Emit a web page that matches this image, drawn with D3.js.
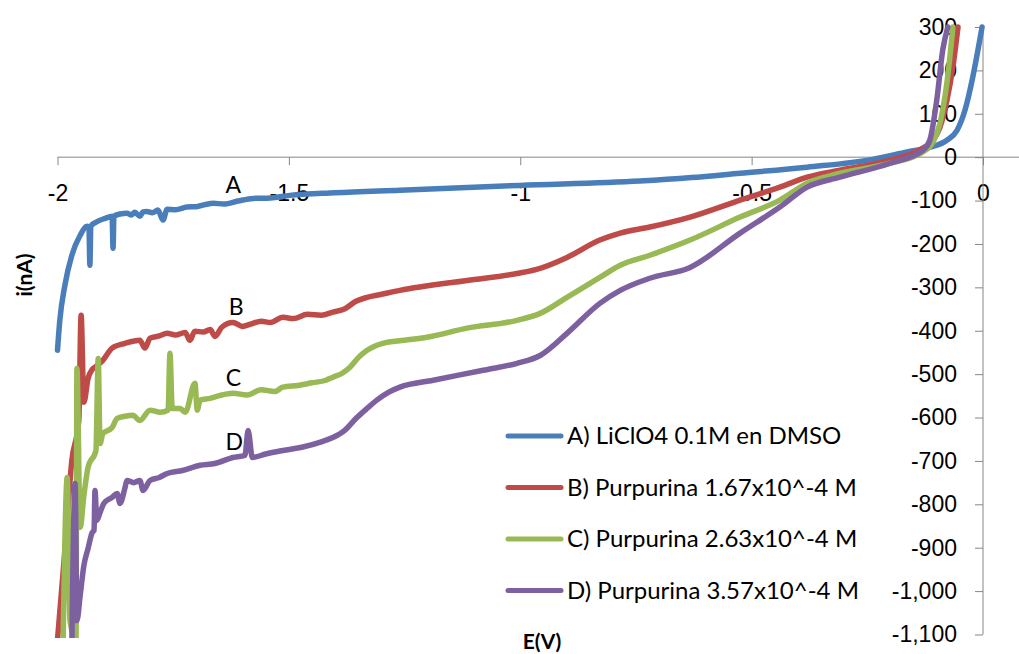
<!DOCTYPE html>
<html lang="es">
<head>
<meta charset="UTF-8">
<title>Voltametría Purpurina</title>
<style>
    body { margin: 0; background: #fff; }
    svg { display: block; font-family: Lato, "Open Sans", sans-serif; }
    .axis text { font-size: 23px; fill: #000; }
    .axis line, .axis path { stroke: #868686; stroke-width: 1; }
    .series { fill: none; stroke-width: 5.5; stroke-linejoin: round; stroke-linecap: round; }
</style>
</head>
<body>
<svg id="chart" width="1019" height="654"></svg>
<script src="https://d3js.org/d3.v7.min.js"></script>
<script>
    // E (V) and i (nA)
    const serieA = [
        [-2.000, -445], [-1.995, -376], [-1.984, -295], [-1.969, -226], [-1.951, -180],
        [-1.936, -159], [-1.932, -164], [-1.930, -249], [-1.928, -159], [-1.917, -150],
        [-1.897, -141], [-1.882, -136], [-1.880, -210], [-1.878, -136], [-1.865, -131],
        [-1.850, -129], [-1.840, -133], [-1.833, -127], [-1.822, -136], [-1.815, -126],
        [-1.807, -125], [-1.795, -128], [-1.783, -122], [-1.772, -145], [-1.763, -120],
        [-1.745, -121], [-1.720, -115], [-1.700, -114], [-1.664, -106], [-1.640, -108],
        [-1.610, -101], [-1.577, -95], [-1.540, -94], [-1.498, -88], [-1.400, -82],
        [-1.260, -76], [-1.001, -65], [-0.742, -55], [-0.630, -47], [-0.525, -37],
        [-0.380, -23], [-0.238, -5], [-0.164, 12], [-0.115, 23], [-0.078, 39],
        [-0.056, 62], [-0.039, 108], [-0.022, 185], [-0.007, 270], [-0.002, 300]
    ];
    const serieB = [
        [-2.001, -1125], [-1.984, -906], [-1.969, -699], [-1.954, -607], [-1.949, -364],
        [-1.943, -565], [-1.934, -510], [-1.925, -489], [-1.919, -484], [-1.902, -468],
        [-1.882, -440], [-1.854, -429], [-1.822, -422], [-1.811, -440], [-1.800, -417],
        [-1.780, -412], [-1.763, -406], [-1.745, -410], [-1.724, -404], [-1.714, -422],
        [-1.703, -401], [-1.685, -403], [-1.670, -397], [-1.660, -413], [-1.645, -392],
        [-1.621, -381], [-1.600, -390], [-1.584, -385], [-1.560, -378], [-1.540, -381],
        [-1.513, -369], [-1.490, -372], [-1.460, -362], [-1.430, -364], [-1.405, -357],
        [-1.380, -350], [-1.355, -332], [-1.331, -323], [-1.300, -316], [-1.260, -307],
        [-1.115, -284], [-1.007, -268], [-0.957, -256], [-0.899, -231], [-0.828, -191],
        [-0.784, -175], [-0.720, -161], [-0.633, -138], [-0.525, -99], [-0.439, -69],
        [-0.380, -46], [-0.309, -30], [-0.201, -7], [-0.130, 21], [-0.108, 39],
        [-0.093, 69], [-0.078, 131], [-0.065, 208], [-0.054, 300]
    ];
    const serieC = [
        [-1.988, -1125], [-1.979, -738], [-1.973, -1068], [-1.960, -1114], [-1.958, -487],
        [-1.951, -853], [-1.943, -780], [-1.934, -715], [-1.917, -676], [-1.912, -464],
        [-1.908, -660], [-1.902, -637], [-1.882, -623], [-1.871, -602], [-1.854, -597],
        [-1.837, -595], [-1.822, -607], [-1.800, -583], [-1.778, -588], [-1.761, -583],
        [-1.757, -452], [-1.752, -579], [-1.735, -579], [-1.724, -588], [-1.703, -521],
        [-1.698, -583], [-1.692, -560], [-1.670, -556], [-1.645, -548], [-1.621, -544],
        [-1.590, -548], [-1.560, -536], [-1.530, -540], [-1.513, -530], [-1.480, -526],
        [-1.450, -520], [-1.420, -514], [-1.405, -507], [-1.385, -498], [-1.368, -484],
        [-1.350, -462], [-1.331, -445], [-1.297, -429], [-1.250, -422], [-1.202, -415],
        [-1.115, -394], [-1.007, -376], [-0.957, -360], [-0.899, -323], [-0.828, -277],
        [-0.784, -249], [-0.720, -226], [-0.633, -191], [-0.525, -138], [-0.439, -99],
        [-0.380, -60], [-0.309, -37], [-0.201, -14], [-0.130, 12], [-0.108, 35],
        [-0.093, 78], [-0.078, 171], [-0.065, 300]
    ];
    const serieD = [
        [-1.969, -1125], [-1.962, -752], [-1.958, -1068], [-1.951, -1010], [-1.943, -941],
        [-1.934, -902], [-1.925, -865], [-1.921, -860], [-1.919, -768], [-1.915, -837],
        [-1.908, -819], [-1.900, -798], [-1.882, -784], [-1.871, -775], [-1.865, -798],
        [-1.854, -761], [-1.850, -745], [-1.835, -750], [-1.822, -745], [-1.815, -768],
        [-1.800, -745], [-1.780, -738], [-1.763, -729], [-1.730, -722], [-1.692, -710],
        [-1.660, -706], [-1.621, -692], [-1.595, -687], [-1.588, -630], [-1.579, -692],
        [-1.550, -684], [-1.513, -676], [-1.470, -668], [-1.430, -656], [-1.405, -646],
        [-1.380, -630], [-1.353, -600], [-1.330, -578], [-1.310, -560], [-1.285, -542],
        [-1.260, -530], [-1.188, -514], [-1.080, -491], [-1.007, -475], [-0.957, -457],
        [-0.899, -406], [-0.828, -337], [-0.784, -307], [-0.720, -279], [-0.633, -254],
        [-0.525, -175], [-0.439, -115], [-0.380, -69], [-0.309, -46], [-0.201, -14],
        [-0.130, 16], [-0.115, 39], [-0.100, 131], [-0.087, 247], [-0.076, 300]
    ];

    const series = [serieA, serieB, serieC, serieD];
    const seriesNames = [
        'A) LiClO4 0.1M en DMSO',
        'B) Purpurina 1.67x10^-4 M',
        'C) Purpurina 2.63x10^-4 M',
        'D) Purpurina 3.57x10^-4 M'
    ];
    const seriesLetters = ['A', 'B', 'C', 'D'];
    const letterAt = [[-1.62, -65], [-1.614, -345], [-1.62, -508], [-1.618, -656]];
    const colors = ['#4A7EBB', '#BE4B48', '#98B954', '#7D60A0'];

    const xTicks = [-2, -1.5, -1, -0.5, 0];
    const yTicks = d3.range(300, -1101, -100);

    const svg = d3.select('#chart');
    const W = 1019, H = 654;

    const x = d3.scaleLinear().domain([-2, 0]).range([57.5, 983]);
    const y = d3.scaleLinear().domain([-1100, 300]).range([634.5, 27]);

    // clip lines to the plot area
    svg.append('clipPath').attr('id', 'plot')
        .append('rect').attr('x', 50).attr('y', 18).attr('width', W - 50).attr('height', 638 - 18);

    // x axis, crossing at i = 0
    const xAxis = d3.axisBottom(x).tickValues(xTicks).tickSize(8)
        .tickFormat(d => String(d));
    const gx = svg.append('g').attr('class', 'axis')
        .attr('transform', `translate(0,${y(0)})`)
        .call(xAxis);
    gx.select('.domain').remove();
    gx.append('line').attr('x1', x(-2)).attr('x2', W).attr('y1', 0).attr('y2', 0);
    gx.selectAll('.tick text').attr('y', 36).attr('dy', '0.35em');

    // y axis, at E = 0
    const yAxis = d3.axisLeft(y).tickValues(yTicks).tickSize(8).tickPadding(18)
        .tickFormat(d => d3.format(',')(d).replace('\u2212', '-'));
    const gy = svg.append('g').attr('class', 'axis')
        .attr('transform', `translate(${x(0)},0)`)
        .call(yAxis);
    gy.select('.domain').attr('d', `M0,${y(300)}V${y(-1100)}`);

    // curves
    const line = d3.line().curve(d3.curveMonotoneX).x(d => x(d[0])).y(d => y(d[1]));
    svg.append('g').attr('clip-path', 'url(#plot)')
        .selectAll('path')
        .data(series)
        .enter().append('path')
        .attr('class', 'series')
        .attr('stroke', (d, i) => colors[i])
        .attr('d', line);

    // curve letters
    svg.selectAll('.letter')
        .data(seriesLetters)
        .enter().append('text')
        .attr('class', 'letter')
        .attr('x', (d, i) => x(letterAt[i][0]))
        .attr('y', (d, i) => y(letterAt[i][1]))
        .attr('dy', '0.35em')
        .attr('text-anchor', 'middle')
        .style('font-size', '23px')
        .text(d => d);

    // legend
    const legend = svg.append('g').attr('transform', 'translate(508,436)');
    const items = legend.selectAll('g')
        .data(seriesNames)
        .enter().append('g')
        .attr('transform', (d, i) => `translate(0,${i * 51.5})`);
    items.append('line')
        .attr('x1', 0).attr('x2', 53)
        .attr('stroke', (d, i) => colors[i])
        .attr('stroke-width', 5)
        .attr('stroke-linecap', 'round');
    items.append('text')
        .attr('x', 59).attr('dy', '0.35em')
        .style('font-size', '24px')
        .text(d => d);

    // axis titles
    svg.append('text')
        .attr('transform', 'translate(25,275) rotate(-90)')
        .attr('text-anchor', 'middle').attr('dy', '0.35em')
        .style('font-size', '21px').style('font-weight', 'bold')
        .text('i(nA)');
    svg.append('text')
        .attr('x', 542).attr('y', 642)
        .attr('text-anchor', 'middle').attr('dy', '0.35em')
        .style('font-size', '21px').style('font-weight', 'bold')
        .text('E(V)');
</script>
</body>
</html>
